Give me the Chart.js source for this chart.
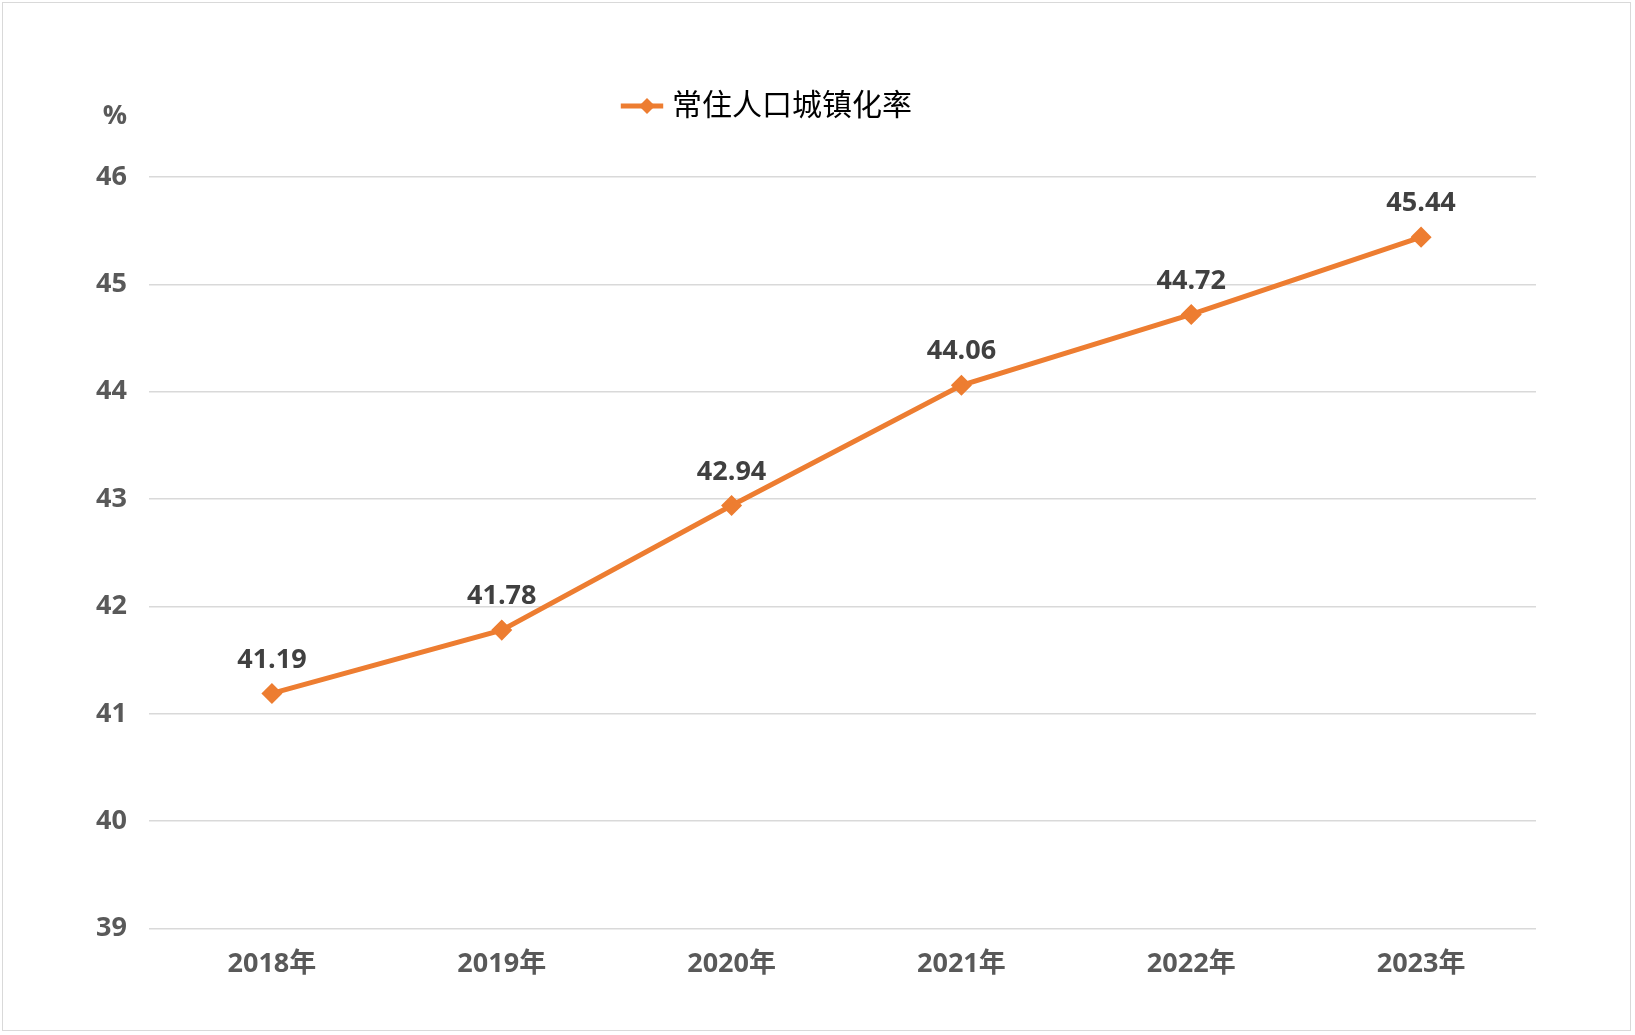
<!DOCTYPE html>
<html><head><meta charset="utf-8">
<script src="https://cdn.jsdelivr.net/npm/chart.js@4"></script>
<style>
body{margin:0;background:#fff}
#wrap{position:absolute;left:2px;top:2px;width:1627px;height:1027px;border:1px solid #d9d9d9}
</style></head><body>
<div id="wrap"><canvas id="c"></canvas></div>
<script>
const years = ['2018年', '2019年', '2020年', '2021年', '2022年', '2023年'];
const rates = [41.19, 41.78, 42.94, 44.06, 44.72, 45.44];
const seriesName = '常住人口城镇化率';
const yMin = 39, yMax = 46;

const font = '"Open Sans","Noto Sans CJK SC",sans-serif';
const orange = '#ED7D31';

// extra space under legend and shift it right like the original
const legendPlugin = {
  id: 'legendTweak',
  beforeInit(chart) {
    const lg = chart.legend;
    if (!lg) return;
    const orig = lg.fit.bind(lg);
    lg.fit = function () { orig(); this.height += 46; };
  },
  afterLayout(chart) {
    const lg = chart.legend;
    if (lg && lg.legendHitBoxes) lg.legendHitBoxes.forEach(h => { h.left += 88; });
  },
  afterDraw(chart) {
    const lg = chart.legend;
    if (!lg || !lg.legendHitBoxes) return;
    const h = lg.legendHitBoxes[0];
    const ctx = chart.ctx;
    const cx = h.left + 20, cy = h.top + h.height / 2;
    ctx.save();
    ctx.fillStyle = orange;
    ctx.beginPath();
    ctx.moveTo(cx, cy - 8); ctx.lineTo(cx + 8, cy); ctx.lineTo(cx, cy + 8); ctx.lineTo(cx - 8, cy);
    ctx.closePath(); ctx.fill();
    ctx.restore();
  }
};

const labelPlugin = {
  id: 'labels',
  afterDatasetsDraw(chart) {
    const ctx = chart.ctx;
    ctx.save();
    ctx.font = 'bold 27px ' + font;
    ctx.fillStyle = '#404040';
    ctx.textAlign = 'center';
    ctx.textBaseline = 'bottom';
    chart.getDatasetMeta(0).data.forEach((p, i) => {
      ctx.fillText(rates[i].toFixed(2), p.x, p.y - 20);
    });
    ctx.textBaseline = 'middle';
    ctx.fillStyle = '#595959';
    ctx.fillText('%', 112, 113);
    ctx.restore();
  }
};

new Chart(document.getElementById('c'), {
  type: 'line',
  data: {
    labels: years,
    datasets: [{
      label: seriesName,
      data: rates,
      borderColor: orange,
      backgroundColor: orange,
      borderWidth: 5,
      pointStyle: 'rectRot',
      pointRadius: 7,
      tension: 0
    }]
  },
  options: {
    responsive: true,
    maintainAspectRatio: false,
    animation: false,
    layout: { padding: { top: 53, right: 94, bottom: 37, left: 0 } },
    plugins: {
      legend: {
        labels: {
          usePointStyle: true,
          boxWidth: 40,
          padding: 35,
          color: '#595959',
          font: { size: 30, family: font },
          generateLabels(chart) {
            return [{ text: seriesName, fillStyle: orange, strokeStyle: orange, pointStyle: 'line', lineWidth: 5 }];
          }
        }
      },
      tooltip: { enabled: false }
    },
    scales: {
      x: {
        offset: true,
        grid: { display: false },
        border: { display: false },
        ticks: { color: '#595959', font: { size: 27, weight: 'bold', family: font }, padding: 12 }
      },
      y: {
        min: yMin, max: yMax,
        afterFit(s) { s.width = 154; },
        grid: { color: '#d9d9d9', lineWidth: 1.5 },
        border: { display: false },
        ticks: { stepSize: 1, color: '#595959', font: { size: 27, weight: 'bold', family: font }, padding: 22 }
      }
    }
  },
  plugins: [legendPlugin, labelPlugin]
});
</script>
</body></html>
